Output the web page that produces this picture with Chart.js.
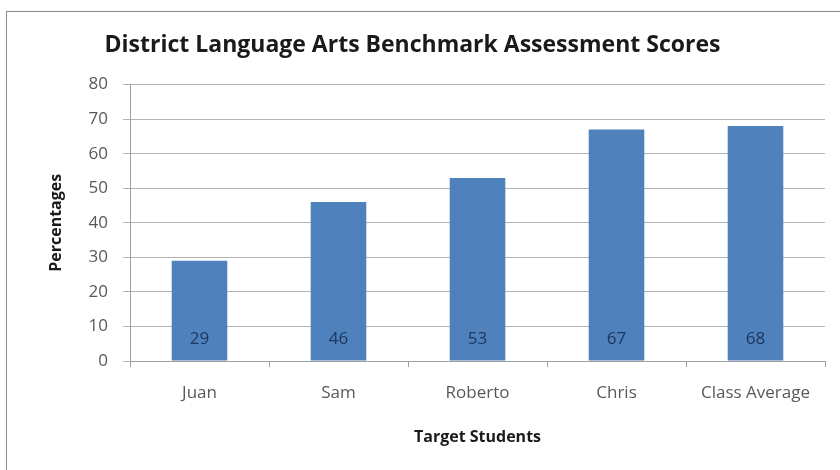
<!DOCTYPE html>
<html>
<head>
<meta charset="utf-8">
<script src="https://cdn.jsdelivr.net/npm/chart.js@4.4.0/dist/chart.umd.min.js"></script>
<style>
  html, body { margin: 0; padding: 0; background: #fff; overflow: hidden; }
  #frame {
    position: absolute; left: 6px; top: 11px; width: 900px; height: 600px;
    border: 1px solid #8a8a8a; box-shadow: 1px 1px 2px rgba(0,0,0,0.25);
  }
  #wrap { position: absolute; left: 0; top: 0; width: 840px; height: 470px; }
</style>
</head>
<body>
<div id="frame"></div>
<div id="wrap"><canvas id="chart" width="840" height="470"></canvas></div>
<script>
// data
const students = ['Juan', 'Sam', 'Roberto', 'Chris', 'Class Average'];
const scores = [29, 46, 53, 67, 68];
const yTicks = [0, 10, 20, 30, 40, 50, 60, 70, 80];

const font = '"Open Sans", Lato, sans-serif';

// value inside each bar, near the bottom
const barLabels = {
    id: 'barLabels',
    afterDatasetsDraw(chart) {
        const ctx = chart.ctx;
        const meta = chart.getDatasetMeta(0);
        ctx.save();
        ctx.font = '17px ' + font;
        ctx.fillStyle = '#1c365c';
        ctx.textAlign = 'center';
        ctx.textBaseline = 'middle';
        meta.data.forEach((bar, i) => {
            ctx.fillText(scores[i], bar.x, bar.base - 21);
        });
        ctx.restore();
    }
};

new Chart(document.getElementById('chart'), {
    type: 'bar',
    data: {
        labels: students,
        datasets: [{
            data: scores,
            backgroundColor: '#4f81bd',
            barPercentage: 0.4,
            categoryPercentage: 1
        }]
    },
    options: {
        responsive: false,
        animation: false,
        layout: { padding: { right: 15 } },
        plugins: {
            legend: { display: false },
            tooltip: { enabled: false },
            title: {
                display: true,
                text: 'District Language Arts Benchmark Assessment Scores',
                color: '#1a1a1a',
                font: { family: font, size: 23, weight: 'bold', lineHeight: 1.2 },
                padding: { top: 32, bottom: 25 }
            }
        },
        scales: {
            x: {
                grid: { display: true, drawOnChartArea: false, color: '#a0a0a0', tickLength: 6 },
                border: { color: '#a0a0a0' },
                ticks: { color: '#595959', font: { family: font, size: 17 }, padding: 16 },
                title: {
                    display: true,
                    text: 'Target Students',
                    color: '#1a1a1a',
                    font: { family: font, size: 16, weight: 'bold', lineHeight: 1.2 },
                    padding: { top: 0, bottom: 23 }
                },
                afterFit(scale) { scale.height = 109; }
            },
            y: {
                min: 0,
                max: 80,
                afterBuildTicks(scale) { scale.ticks = yTicks.map(v => ({ value: v })); },
                grid: { color: '#b4b4b4', tickLength: 7 },
                border: { color: '#a0a0a0' },
                ticks: { color: '#595959', font: { family: font, size: 17 }, padding: 15 },
                title: {
                    display: true,
                    text: 'Percentages',
                    color: '#1a1a1a',
                    font: { family: font, size: 16, weight: 'bold', lineHeight: 1.2 },
                    padding: { top: 47, bottom: 0 }
                },
                afterFit(scale) { scale.width = 130; }
            }
        }
    },
    plugins: [barLabels]
});
</script>
</body>
</html>
